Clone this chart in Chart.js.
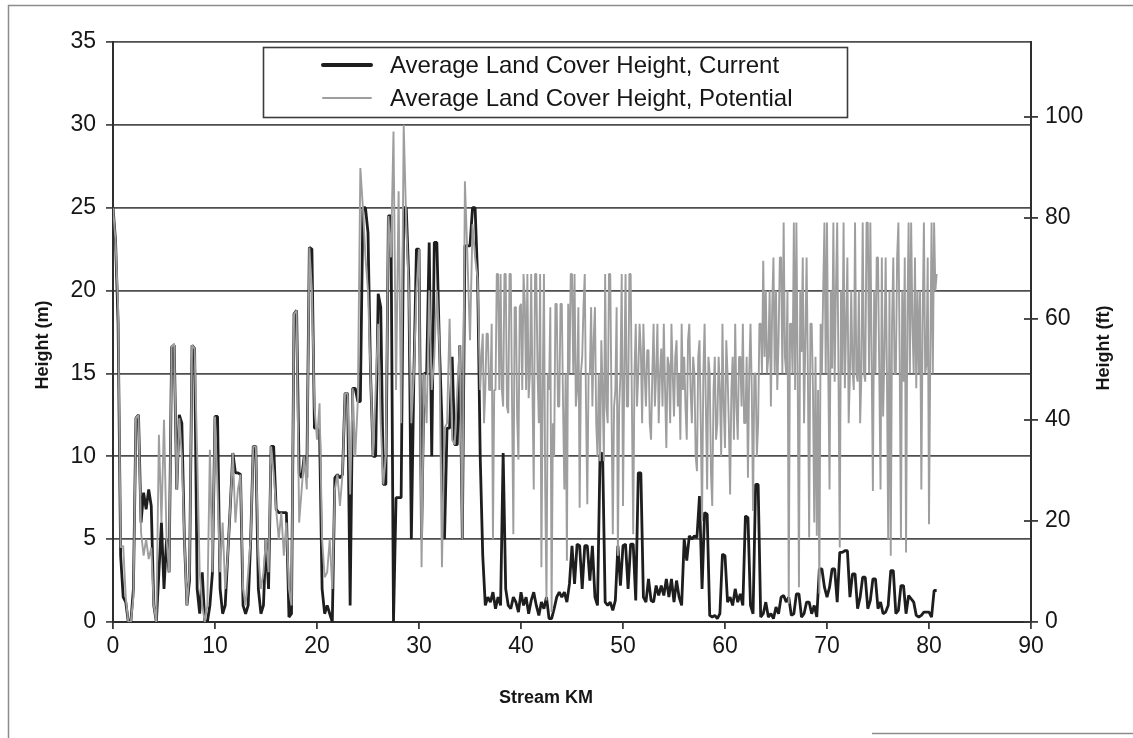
<!DOCTYPE html>
<html><head><meta charset="utf-8">
<script src="https://cdn.jsdelivr.net/npm/chart.js@4.4.1/dist/chart.umd.min.js"></script>
<style>html,body{margin:0;padding:0;background:#fff;}#wrap{position:relative;width:1133px;height:738px;}</style>
</head><body><div id="wrap"><canvas id="c" width="1133" height="738"></canvas></div>
<script>
// Stream kilometre of each "current" sample
const currentKm = [
0,0.25,0.5,0.75,1,1.25,1.5,1.75,2,2.25,2.5,2.75,3,3.25,3.5,3.75,4,4.25,4.5,4.75,
5,5.25,5.5,5.75,6,6.25,6.5,6.75,7,7.25,7.5,7.75,8,8.25,8.5,8.75,9,9.25,9.5,9.75,
10,10.25,10.5,10.75,11,11.25,11.5,11.75,12,12.25,12.5,12.75,13,13.25,13.5,13.75,14,14.25,14.5,14.75,
15,15.25,15.5,15.75,16,16.25,16.5,16.75,17,17.25,17.5,17.75,18,18.25,18.5,18.75,19,19.25,19.5,19.75,
20,20.25,20.5,20.75,21,21.25,21.5,21.75,22,22.25,22.5,22.75,23,23.25,23.5,23.75,24,24.25,24.5,24.75,
25,25.25,25.5,25.75,26,26.25,26.5,26.75,27,27.25,27.5,27.75,28,28.25,28.5,28.75,29,29.25,29.5,29.75,
30,30.25,30.5,30.75,31,31.25,31.5,31.75,32,32.25,32.5,32.75,33,33.25,33.5,33.75,34,34.25,34.5,34.75,
35,35.25,35.5,35.75,36,36.25,36.5,36.75,37,37.25,37.5,37.75,38,38.25,38.5,38.75,39,39.25,39.5,39.75,
40,40.25,40.5,40.75,41,41.25,41.5,41.75,42,42.25,42.5,42.75,43,43.25,43.5,43.75,44,44.25,44.5,44.75,
45,45.25,45.5,45.75,46,46.25,46.5,46.75,47,47.25,47.5,47.75,48,48.25,48.5,48.75,49,49.25,49.5,49.75,
50,50.25,50.5,50.75,51,51.25,51.5,51.75,52,52.25,52.5,52.75,53,53.25,53.5,53.75,54,54.25,54.5,54.75,
55,55.25,55.5,55.75,56,56.25,56.5,56.75,57,57.25,57.5,57.75,58,58.25,58.5,58.75,59,59.25,59.5,59.75,
60,60.25,60.5,60.75,61,61.25,61.5,61.75,62,62.25,62.5,62.75,63,63.25,63.5,63.75,64,64.25,64.5,64.75,
65,65.25,65.5,65.75,66,66.25,66.5,66.75,67,67.25,67.5,67.75,68,68.25,68.5,68.75,69,69.25,69.5,69.75,
70,70.25,70.5,70.75,71,71.25,71.5,71.75,72,72.25,72.5,72.75,73,73.25,73.5,73.75,74,74.25,74.5,74.75,
75,75.25,75.5,75.75,76,76.25,76.5,76.75,77,77.25,77.5,77.75,78,78.25,78.5,78.75,79,79.25,79.5,79.75,
80,80.25,80.5,80.75
];

// Average land cover height, current (m)
const currentHeightM = [
25,23,18,4, 1.5,1.2,0,0, 2,12.3,12.5,6, 7.8,6.8,8,7, 1,0,3,6,
2,5,3,16.6, 16.7,8,12.5,12, 5,1,2.5,16.7, 16.5,2,0.5,3, 0,0,1,3,
12.4,12.4,2,0.5, 1,4,7,10.2, 9,9,8.9,1, 0.5,1,5,10.6, 10.6,2,0.5,1,
5,2,10.6,10.6, 6.8,6.6,6.6,6.6, 6.6,0.3,0.5,18.6, 18.8,9,8.7,10, 8.7,22.6,22.5,11.7,
11.7,11.5,2,0.5, 1,0.5,0,8.7, 8.9,8.7,8.9,13.8, 13.8,1,14.1,14.1, 13.3,13.3,25,25,
23.5,15,10,10, 19.8,19,8.3,8.3, 24.5,24.5,0,7.5, 7.5,7.5,25,25, 20.7,5,15,22.5,
22.5,5,15,15, 22.9,10,22.9,22.9, 16.7,12,5,11.7, 11.7,16,10.7,10.7, 16.7,5,22.7,22.7,
22.7,25,25,20.7, 10,4,1,1.5, 1.2,1.8,0.8,1.5, 1,10.2,2,1, 0.8,1.5,1.2,0.6,
1.8,1,1.5,0.5, 1.3,1.8,1,0.4, 1.2,0.8,1.5,0.2, 0.2,0.8,1.5,1.8, 1.5,1.8,1.2,2.3,
4.6,2.3,4.7,4.6, 2,4.6,4.6,2.5, 4.6,1.5,1,10.1, 10.2,1.2,1,1.2, 0.7,1.3,4.6,2.2,
4.6,4.7,2,4.7, 4.7,1.3,9,9, 1.5,1.2,2.6,1.3, 1.2,2.2,1.6,2.2, 1.6,2.6,1.5,2.6,
1.2,2.5,1.5,1, 5,3.7,5.2,5, 5.2,5.1,7.6,2, 6.6,6.5,0.4,0.3, 0.4,0.2,0.5,4.1,
4,1.2,1.5,1, 2,1.2,1.7,1, 6.4,6.3,1,0.5, 8.3,8.3,0.3,0.5, 1.2,0.3,0.5,0.2,
0.9,0.5,1.5,1.6, 1.2,1.5,0.4,0.5, 1.7,1.7,0.3,0.5, 1.2,1.2,0.5,1, 0.3,3.2,3.2,2.1,
1.5,2.1,3.2,3.2, 1.2,4.2,4.2,4.3, 4.3,1.5,2.9,2.9, 0.8,1.5,2.7,2.7, 0.8,1.3,2.6,2.6,
0.8,1.2,0.5,0.6, 1,3.1,3.1,0.5, 0.7,2.2,2.2,0.5, 1.6,1.4,1.2,0.4, 0.3,0.4,0.6,0.6,
0.6,0.3,1.9,1.9
];

// Stream kilometre of each "potential" sample (finer spacing below km 36)
const potentialKm = [
0,0.25,0.5,0.75,1,1.25,1.5,1.75,2,2.25,2.5,2.75,3,3.25,3.5,3.75,4,4.25,4.5,4.75,
5,5.25,5.5,5.75,6,6.25,6.5,6.75,7,7.25,7.5,7.75,8,8.25,8.5,8.75,9,9.25,9.5,9.75,
10,10.25,10.5,10.75,11,11.25,11.5,11.75,12,12.25,12.5,12.75,13,13.25,13.5,13.75,14,14.25,14.5,14.75,
15,15.25,15.5,15.75,16,16.25,16.5,16.75,17,17.25,17.5,17.75,18,18.25,18.5,18.75,19,19.25,19.5,19.75,
20,20.25,20.5,20.75,21,21.25,21.5,21.75,22,22.25,22.5,22.75,23,23.25,23.5,23.75,24,24.25,24.5,24.75,
25,25.25,25.5,25.75,26,26.25,26.5,26.75,27,27.25,27.5,27.75,28,28.25,28.5,28.75,29,29.25,29.5,29.75,
30,30.25,30.5,30.75,31,31.25,31.5,31.75,32,32.25,32.5,32.75,33,33.25,33.5,33.75,34,34.25,34.5,34.75,
35,35.25,35.5,35.75,
36,36.125,36.25,36.375,36.5,36.625,36.75,36.875, 37,37.125,37.25,37.375,37.5,37.625,37.75,37.875,
38,38.125,38.25,38.375,38.5,38.625,38.75,38.875, 39,39.125,39.25,39.375,39.5,39.625,39.75,39.875,
40,40.125,40.25,40.375,40.5,40.625,40.75,40.875, 41,41.125,41.25,41.375,41.5,41.625,41.75,41.875,
42,42.125,42.25,42.375,42.5,42.625,42.75,42.875, 43,43.125,43.25,43.375,43.5,43.625,43.75,43.875,
44,44.125,44.25,44.375,44.5,44.625,44.75,44.875, 45,45.125,45.25,45.375,45.5,45.625,45.75,45.875,
46,46.125,46.25,46.375,46.5,46.625,46.75,46.875, 47,47.125,47.25,47.375,47.5,47.625,47.75,47.875,
48,48.125,48.25,48.375,48.5,48.625,48.75,48.875, 49,49.125,49.25,49.375,49.5,49.625,49.75,49.875,
50,50.125,50.25,50.375,50.5,50.625,50.75,50.875, 51,51.125,51.25,51.375,51.5,51.625,51.75,51.875,
52,52.125,52.25,52.375,52.5,52.625,52.75,52.875, 53,53.125,53.25,53.375,53.5,53.625,53.75,53.875,
54,54.125,54.25,54.375,54.5,54.625,54.75,54.875, 55,55.125,55.25,55.375,55.5,55.625,55.75,55.875,
56,56.125,56.25,56.375,56.5,56.625,56.75,56.875, 57,57.125,57.25,57.375,57.5,57.625,57.75,57.875,
58,58.125,58.25,58.375,58.5,58.625,58.75,58.875, 59,59.125,59.25,59.375,59.5,59.625,59.75,59.875,
60,60.125,60.25,60.375,60.5,60.625,60.75,60.875, 61,61.125,61.25,61.375,61.5,61.625,61.75,61.875,
62,62.125,62.25,62.375,62.5,62.625,62.75,62.875, 63,63.125,63.25,63.375,63.5,63.625,63.75,63.875,
64,64.125,64.25,64.375,64.5,64.625,64.75,64.875, 65,65.125,65.25,65.375,65.5,65.625,65.75,65.875,
66,66.125,66.25,66.375,66.5,66.625,66.75,66.875, 67,67.125,67.25,67.375,67.5,67.625,67.75,67.875,
68,68.125,68.25,68.375,68.5,68.625,68.75,68.875, 69,69.125,69.25,69.375,69.5,69.625,69.75,69.875,
70,70.125,70.25,70.375,70.5,70.625,70.75,70.875, 71,71.125,71.25,71.375,71.5,71.625,71.75,71.875,
72,72.125,72.25,72.375,72.5,72.625,72.75,72.875, 73,73.125,73.25,73.375,73.5,73.625,73.75,73.875,
74,74.125,74.25,74.375,74.5,74.625,74.75,74.875, 75,75.125,75.25,75.375,75.5,75.625,75.75,75.875,
76,76.125,76.25,76.375,76.5,76.625,76.75,76.875, 77,77.125,77.25,77.375,77.5,77.625,77.75,77.875,
78,78.125,78.25,78.375,78.5,78.625,78.75,78.875, 79,79.125,79.25,79.375,79.5,79.625,79.75,79.875,
80,80.125,80.25,80.375,80.5,80.625,80.75
];

// Average land cover height, potential (m)
const potentialHeightM = [
25,23,19,4.5, 4.6,1.5,0,0, 1.5,12.3,12.5,5.4, 4,5,3.8,4.5, 1,0,11.3,6,
12.2,5,3,16.6, 16.8,8,12.3,10, 5,1,3,16.7, 16.5,10.2,3,1, 0,1,10.4,3,
12.4,8,3,6, 2,4,7,10.2, 6,8,8.9,2, 1,3,5,10.6, 10.6,4,2,3,
5,3,10.6,9, 6.8,5,6.6,4, 6,2,1,18.6, 18.8,6,8,10, 8,22.6,20,13,
11,13.2,5,2.7, 3,5,2,8, 8.9,7,8.9,13.8, 13.8,7.7,14.1,10, 13.3,27.4,25,22,
20,15,10,14, 18,12,8.3,10, 24.5,22,29.6,14, 26,12,30,24, 20,12,15,20,
22.5,3.3,15,12, 20,14,16,20, 16.7,3.3,11.7,12, 18.3,11,10.7,14, 16.7,5,26.6,22,
17,24,22,20.7,
14,16,17.4,12,14,17.4,17.4,14,  14,18,5,14,14,21,21,14,
21,14,13,21,21,13,12.6,21,  21,13,5.3,19,19,12.3,9.8,19,
19.2,14,21,19.2,14,21,13.5,15,  21,14,8,21,21,15,12,21,
3.3,14,21,8,1.3,15,14,19,  0.6,12,10,19.2,19.2,13,13,19.2,
19.2,13,8,15,3.7,19.2,15,21,  21,15,21,13,14,19,6.9,15,
16,19,21,13,7.1,15,15,19,  13,17,19,12,10,15,9.7,17,
14,9.7,21,13,12,21,21,13,  5.3,13,14,19,4,13,15,21,
7,15,21,13,13,21,21,13,  5.3,15,18,13,15,18,16.4,12,
18,15,13,16.4,16.4,12,11,15,  18,13,15,18,12,15,16.5,13,
18,14,10.5,16,15.5,12,18,15,  12.4,16,17,13,15,11,18,14,
16,13,11,17,18,14,12,16,  15,10,9.1,16,17,12,6.1,15,
18,13,8,16,15,9,7,14,  16,11,12,16,14,10,18,13,
10.5,17,15,12,7.7,14,16,11,  18,13,11,16,16,13,18,12,
12,16,8.7,15,18,14,6.7,15,  15,10,12,18,18,15,21.8,16,
20,15,16,20,13,19,22,15,  20,14,17,22,22,15,24.1,16,
15,20,1.1,18,18,15,24.1,14,  24.1,15,2.1,20,16.3,22,12,17,
22,15,5.1,18,18,14,6,16,  5.2,14,1.7,18,15,20,24.1,15,
24.1,15,8,20,15.3,24.1,14.5,20,  24.1,15,4.5,20,15,24.1,14.1,18,
22,12,15,20,15.3,14,24.1,15,  14.5,20,12,15,24.1,15,14.5,24.1,
24.1,15,24.1,16,7.9,20,15,22,  22,15,8,22,12.4,16,22,15,
5,20,4,18,22,15,15,22,  24.1,16,5,20,14.5,22,4.2,18,
24.1,15,24.1,18,15,22,14.1,20,  15,20,8,18,24.1,15,15.5,22,
5.9,16,24.1,15,24.1,20,21
];

const seriesLabels = ['Average Land Cover Height, Current', 'Average Land Cover Height, Potential'];
const axisTitles = { x: 'Stream KM', yLeft: 'Height (m)', yRight: 'Height (ft)' };
const kmRange = [0, 90];        // x axis extent, ticks every 10
const metreRange = [0, 35];     // left axis extent, ticks every 5
const feetTickStep = 20;        // right axis tick step
const M_TO_FT = 3.28084;

const FONT = "'Liberation Sans', Arial, Helvetica, sans-serif";
const TEXT = '#161616';

function pts(km, vals){ const n = Math.min(km.length, vals.length); const out = []; for (let i = 0; i < n; i++) out.push({x: km[i], y: vals[i]}); return out; }

const decor = {
  id: 'decor',
  beforeDraw(chart){
    const ctx = chart.ctx;
    ctx.save();
    ctx.fillStyle = '#fff';
    ctx.fillRect(0,0,chart.width,chart.height);
    ctx.strokeStyle = '#8c8c8c'; ctx.lineWidth = 1.5;
    ctx.beginPath();
    ctx.moveTo(8.5,738); ctx.lineTo(8.5,5.5); ctx.lineTo(1133,5.5);
    ctx.moveTo(872,733.5); ctx.lineTo(1133,733.5);
    ctx.stroke();
    ctx.restore();
  },
  afterDraw(chart){
    const {ctx, chartArea:a, scales} = chart;
    ctx.save();
    const y2 = scales.y2;
    ctx.strokeStyle = '#3a3a3a'; ctx.lineWidth = 1.8;
    y2.ticks.forEach(t => {
      const py = Math.round(y2.getPixelForValue(t.value));
      ctx.beginPath(); ctx.moveTo(a.right-7, py); ctx.lineTo(a.right, py); ctx.stroke();
    });
    ctx.fillStyle = TEXT;
    ctx.font = 'bold 18px ' + FONT;
    ctx.textAlign = 'center'; ctx.textBaseline = 'middle';
    ctx.fillText(axisTitles.x, 546, 698);
    ctx.save(); ctx.translate(43, 345); ctx.rotate(-Math.PI/2); ctx.fillText(axisTitles.yLeft, 0, 0); ctx.restore();
    ctx.save(); ctx.translate(1104, 348); ctx.rotate(-Math.PI/2); ctx.fillText(axisTitles.yRight, 0, 0); ctx.restore();
    const bx = 263.5, by = 47.5, bw = 584, bh = 70;
    ctx.fillStyle = '#fff'; ctx.fillRect(bx, by, bw, bh);
    ctx.strokeStyle = '#3c3c3c'; ctx.lineWidth = 1.6; ctx.strokeRect(bx, by, bw, bh);
    const ds = chart.data.datasets;
    const rows = [65, 98];
    rows.forEach((ry, i) => {
      ctx.strokeStyle = ds[i].borderColor;
      ctx.lineWidth = i === 0 ? 4 : 2;
      ctx.lineCap = 'round';
      ctx.beginPath(); ctx.moveTo(323, ry); ctx.lineTo(371, ry); ctx.stroke();
      ctx.fillStyle = TEXT; ctx.font = '24px ' + FONT; ctx.textAlign = 'left'; ctx.textBaseline = 'middle';
      ctx.fillText(ds[i].label, 390, ry + 1);
    });
    ctx.restore();
  }
};

new Chart(document.getElementById('c'), {
  type: 'line',
  data: {
    datasets: [
      { label: seriesLabels[0], data: pts(currentKm, currentHeightM), yAxisID: 'y',
        borderColor: '#1e1e1e', borderWidth: 2.8, pointRadius: 0, tension: 0,
        borderJoinStyle: 'bevel', order: 1 },
      { label: seriesLabels[1], data: pts(potentialKm, potentialHeightM), yAxisID: 'y',
        borderColor: '#9e9e9e', borderWidth: 1.9, pointRadius: 0, tension: 0,
        borderJoinStyle: 'bevel', order: 0 }
    ]
  },
  options: {
    responsive: false, animation: false, devicePixelRatio: 1,
    layout: { padding: { top: 42, left: 0, right: 0, bottom: 0 } },
    plugins: { legend: { display: false }, tooltip: { enabled: false } },
    scales: {
      x: {
        type: 'linear', min: kmRange[0], max: kmRange[1],
        ticks: { stepSize: 10, color: TEXT, font: { family: FONT, size: 23 }, padding: 4, maxRotation: 0 },
        grid: { drawOnChartArea: false, drawTicks: true, tickLength: 7, color: '#3a3a3a', lineWidth: 1.8 },
        border: { display: true, color: '#2e2e2e', width: 2 },
        afterFit(s){ s.height = 116; }
      },
      y: {
        position: 'left', min: metreRange[0], max: metreRange[1],
        ticks: { stepSize: 5, color: TEXT, font: { family: FONT, size: 23 }, padding: 10, includeBounds: false },
        grid: { color: '#4e4e4e', lineWidth: 1.8, tickLength: 7 },
        border: { display: true, color: '#2e2e2e', width: 2 },
        afterFit(s){ s.width = 113; }
      },
      y2: {
        position: 'right', min: metreRange[0]*M_TO_FT, max: metreRange[1]*M_TO_FT,
        ticks: { stepSize: feetTickStep, color: TEXT, font: { family: FONT, size: 23 }, padding: 7, includeBounds: false },
        grid: { drawOnChartArea: false, tickLength: 7, color: '#3a3a3a', lineWidth: 1.8 },
        border: { display: true, color: '#2e2e2e', width: 2 },
        afterFit(s){ s.width = 102; }
      }
    }
  },
  plugins: [decor]
});
</script>
</body></html>
